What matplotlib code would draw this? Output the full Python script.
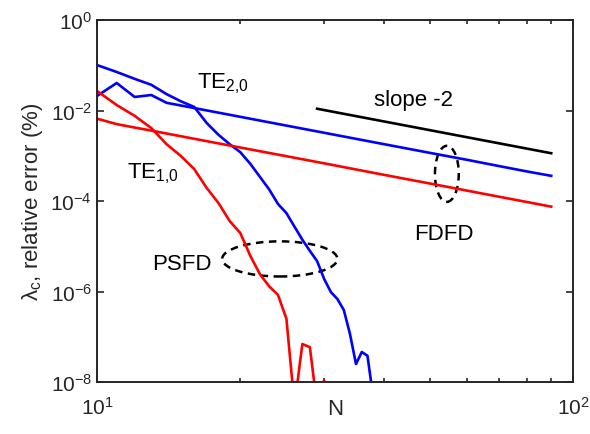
import matplotlib
matplotlib.use("Agg")
import matplotlib.pyplot as plt
from matplotlib.patches import Ellipse
from matplotlib.ticker import LogLocator, NullFormatter, NullLocator

plt.rcParams['font.family'] = ['Liberation Sans', 'DejaVu Sans']
plt.rcParams['mathtext.fontset'] = 'custom'
plt.rcParams['mathtext.rm'] = 'Liberation Sans'
plt.rcParams['mathtext.it'] = 'Liberation Sans'

# PSFD (spectral) errors, sampled at integer N
n_psfd_te20 = list(range(10, 39))
err_psfd_te20 = [0.101, 0.071, 0.050, 0.037, 0.023, 0.016, 0.012, 5.3e-3, 2.9e-3, 1.8e-3,
                 1.2e-3, 6.6e-4, 3.4e-4, 1.8e-4, 8.6e-5, 5.4e-5, 2.7e-5, 1.4e-5, 7.9e-6,
                 4.7e-6, 1.9e-6, 9.7e-7, 6.8e-7, 3.9e-7, 1.15e-7, 2.5e-8, 4.6e-8, 3.8e-8, 5e-9]

n_psfd_te10 = list(range(10, 32))
err_psfd_te10 = [0.027, 0.0132, 7.6e-3, 4.1e-3, 1.8e-3, 9.9e-4, 5.1e-4, 1.94e-4, 9.0e-5,
                 3.6e-5, 1.96e-5, 6.1e-6, 2.4e-6, 1.3e-6, 8.4e-7, 2.5e-7, 3e-9, 6.9e-8,
                 5.9e-8, 3e-9, 1.1e-8, 3e-9]

# FDFD errors
n_fdfd = [10, 11, 12, 13, 14, 15, 20, 30, 40, 50, 60, 70, 80, 90]
err_fdfd_te20 = [0.0209, 0.0405, 0.0199, 0.0220, 0.0148, 0.0129, 7.25e-3, 3.22e-3,
                 1.81e-3, 1.16e-3, 8.1e-4, 5.9e-4, 4.5e-4, 3.6e-4]
err_fdfd_te10 = [6.6e-3, 5.0e-3, 4.2e-3, 3.6e-3, 3.1e-3, 2.7e-3, 1.52e-3, 6.8e-4,
                 3.8e-4, 2.44e-4, 1.69e-4, 1.24e-4, 9.5e-5, 7.5e-5]

# reference slope -2 line
n_slope = [29, 90]
err_slope = [1.094e-2, 1.136e-3]

fig = plt.figure(figsize=(5.9, 4.35), dpi=100)
ax = fig.add_axes([97 / 590, 1 - 383 / 435, 476 / 590, 362 / 435])

lw = 1.9
ax.plot(n_psfd_te20, err_psfd_te20, color='#0000ff', lw=lw)
ax.plot(n_fdfd, err_fdfd_te20, color='#0000ff', lw=lw)
ax.plot(n_psfd_te10, err_psfd_te10, color='#ff0000', lw=lw)
ax.plot(n_fdfd, err_fdfd_te10, color='#ff0000', lw=lw)
ax.plot(n_slope, err_slope, color='black', lw=lw)

ax.set_xscale('log')
ax.set_yscale('log')
ax.set_xlim(10, 100)
ax.set_ylim(1e-8, 1)
ax.set_yticks([1e-8, 1e-6, 1e-4, 1e-2, 1])
ax.yaxis.set_minor_locator(NullLocator())
ax.xaxis.set_minor_locator(LogLocator(base=10, subs=range(2, 10)))
ax.xaxis.set_minor_formatter(NullFormatter())

gray = '#262626'
for s in ax.spines.values():
    s.set_linewidth(1.4)
    s.set_color(gray)
ax.tick_params(which='both', direction='in', top=True, right=True, colors=gray,
               labelsize=15, width=1.2)
ax.tick_params(which='major', length=5)
ax.tick_params(which='minor', length=3)
ax.tick_params(axis='x', pad=10)

ax.set_xlabel('N', fontsize=16, color=gray, labelpad=-14)
ax.set_ylabel(r'λ$_\mathregular{c}$, relative error (%)', fontsize=16, color=gray, labelpad=4)

# dashed ellipses marking the two groups
ax.add_patch(Ellipse((0.384, 0.340), 0.242, 0.097, transform=ax.transAxes, fill=False,
                     ls=(0, (3, 2.2)), lw=1.8, color='black'))
ax.add_patch(Ellipse((0.735, 0.575), 0.050, 0.155, transform=ax.transAxes, fill=False,
                     ls=(0, (3, 2.2)), lw=1.8, color='black'))

fs = 16
ax.text(0.210, 0.815, r'TE$_\mathregular{2{,}0}$', transform=ax.transAxes, fontsize=fs, va='baseline')
ax.text(0.063, 0.566, r'TE$_\mathregular{1{,}0}$', transform=ax.transAxes, fontsize=fs, va='baseline')
ax.text(0.664, 0.765, 'slope -2', transform=ax.transAxes, fontsize=fs, ha='center', va='baseline')
ax.text(0.729, 0.395, 'FDFD', transform=ax.transAxes, fontsize=fs, ha='center', va='baseline')
ax.text(0.179, 0.312, 'PSFD', transform=ax.transAxes, fontsize=fs, ha='center', va='baseline')

fig.savefig('out.png', dpi=100)
